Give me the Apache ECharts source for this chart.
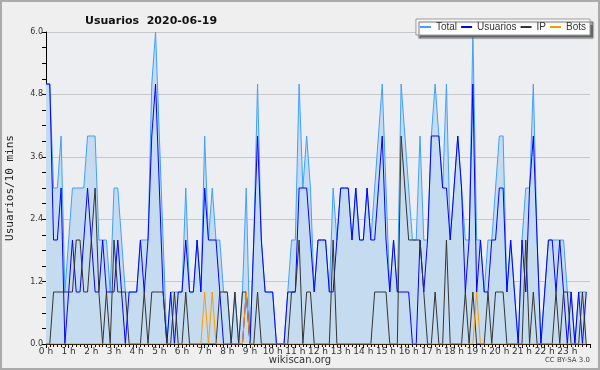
<!DOCTYPE html>
<html><head><meta charset="utf-8">
<script src="https://cdn.jsdelivr.net/npm/echarts@6/dist/echarts.min.js"></script>
<style>html,body{margin:0;padding:0;background:#efefef}#c{width:600px;height:370px}</style>
</head><body><div id="c"></div>
<script>
// 144 ten-minute slots (index 0 = 00:00 ... 143 = 23:50)
const usuarios = [
5,5,2,2,3,0,1,2,1,1, 2,3,2,1,1,2,1,1,1,2, 1,0,1,1,1,2,1,2,4,5,
3,1,0,1,0,1,1,2,1,1, 2,1,3,2,2,2,1,0,0,0, 0,0,0,1,0,2,4,2,1,1,
1,0,0,0,1,1,1,3,3,3, 2,1,2,2,2,1,1,2,3,3, 3,2,3,2,2,3,2,2,3,4,
2,1,2,1,1,1,1,0,0,2, 1,2,4,4,4,3,3,2,3,4, 3,1,2,5,1,2,1,1,2,2,
3,3,1,2,1,0,2,1,3,4, 2,0,1,2,2,1,2,1,0,1, 0,1,0,1];
const ip = [
0,0,1,1,1,1,1,1,2,2, 1,1,2,3,1,0,1,0,2,1, 1,1,0,0,0,0,1,0,1,1,
1,1,0,0,1,0,0,1,0,0, 0,0,0,0,0,0,1,1,1,0, 1,0,1,1,0,0,1,0,0,0,
0,0,0,0,0,1,1,2,0,1, 1,0,0,0,0,0,2,0,0,0, 0,0,0,0,0,0,0,1,1,1,
1,0,0,0,4,3,2,2,2,2, 1,0,0,1,0,0,2,0,0,0, 0,1,0,1,0,0,0,1,0,1,
1,1,0,0,0,0,0,2,0,1, 0,0,0,0,0,1,0,1,1,0, 0,0,1,0];
const bots = [
0,0,0,0,0,0,0,0,0,0, 0,0,0,0,0,0,0,0,0,0, 0,0,0,0,0,0,0,0,0,0,
0,0,0,0,0,0,0,0,0,0, 0,0,1,0,1,0,0,0,0,0, 0,0,0,1,0,0,0,0,0,0,
0,0,0,0,0,0,0,0,0,0, 0,0,0,0,0,0,0,0,0,0, 0,0,0,0,0,0,0,0,0,0,
0,0,0,0,0,0,0,0,0,0, 0,0,0,0,0,0,0,0,0,0, 0,0,0,0,1,0,0,0,0,0,
0,0,0,0,0,0,0,0,0,0, 0,0,0,0,0,0,0,0,0,0, 0,0,0,0];
const total = [
5,5,3,3,4,1,2,3,3,3, 3,4,4,4,2,2,2,1,3,3, 2,1,1,1,1,2,2,2,5,6,
4,2,0,1,1,1,1,3,1,1, 2,1,4,2,3,2,2,1,1,0, 1,0,1,3,0,2,5,2,1,1,
1,0,0,0,1,2,2,5,3,4, 3,1,2,2,2,1,3,2,3,3, 3,2,3,2,2,3,2,3,4,5,
3,1,2,1,5,4,3,2,2,4, 2,2,4,5,4,3,5,2,3,4, 3,2,2,6,2,2,1,2,2,3,
4,4,1,2,1,0,2,3,3,5, 2,0,1,2,2,2,2,2,1,1, 0,1,1,1];
const hourLabels = ["0 h","1 h","2 h","3 h","4 h","5 h","6 h","7 h","8 h","9 h","10 h","11 h",
  "12 h","13 h","14 h","15 h","16 h","17 h","18 h","19 h","20 h","21 h","22 h","23 h"];
const yTickLabels = ["0.0","1.2","2.4","3.6","4.8","6.0"];
const seriesNames = ["Total","Usuarios","IP","Bots"];
const seriesColors = ["#3fa0ff","#0000ff","#333333","#ff9900"];

const sans = "'DejaVu Sans',sans-serif";
const lib = "'Liberation Sans',Arial,sans-serif";
const chart = echarts.init(document.getElementById('c'), null, {renderer:'canvas'});
const pts = arr => arr.map((v,i)=>[i,v]);
const mk = (idx, data, extra) => Object.assign({
  name:seriesNames[idx], type:'line', data:pts(data), symbol:'none', showSymbol:false, animation:false,
  lineStyle:{color:seriesColors[idx], width:1}, itemStyle:{color:seriesColors[idx]}, emphasis:{disabled:true}
}, extra||{});

chart.setOption({
  animation:false,
  backgroundColor:'#efefef',
  title:{text:'Usuarios  2020-06-19', left:80, top:11,
    textStyle:{fontFamily:sans, fontSize:11, fontWeight:'bold', color:'#111'}},
  legend:{right:10, top:19, orient:'horizontal',
    data:seriesNames.map((n,i)=>({name:n, icon:'rect', itemStyle:{color:seriesColors[i], borderWidth:0}})),
    backgroundColor:'#ffffff', borderColor:'#999', borderWidth:1,
    shadowColor:'#666', shadowOffsetX:3, shadowOffsetY:3, shadowBlur:1,
    padding:[3,4,3,4], itemGap:4, itemWidth:11, itemHeight:2,
    textStyle:{fontFamily:lib, fontSize:10, color:'#333'}},
  grid:{left:46, right:10, top:32, bottom:26, show:true, backgroundColor:'#eceef1', borderWidth:0,
    outerBoundsMode:'none', containLabel:false},
  xAxis:{type:'value', min:0, max:144, interval:6,
    axisLine:{lineStyle:{color:'#000', width:1}},
    axisTick:{show:true, length:4, lineStyle:{color:'#000'}},
    minorTick:{show:true, splitNumber:6, length:3, lineStyle:{color:'#000'}},
    splitLine:{show:false},
    axisLabel:{fontFamily:sans, fontSize:9, color:'#333', margin:3,
      formatter:v=>hourLabels[Math.round(v/6)]||''}},
  yAxis:{type:'value', min:0, max:6, interval:1.2,
    name:'Usuarios/10 mins', nameLocation:'middle', nameGap:30,
    nameTextStyle:{fontFamily:"'DejaVu Sans Mono',monospace", fontSize:11, color:'#222'},
    axisLine:{show:true, lineStyle:{color:'#000', width:1}},
    axisTick:{show:true, length:4, lineStyle:{color:'#000'}},
    minorTick:{show:true, splitNumber:4, length:4, lineStyle:{color:'#000'}},
    splitLine:{show:true, lineStyle:{color:'#c8c8c8', width:1}},
    axisLabel:{fontFamily:sans, fontSize:8, color:'#333', margin:3,
      formatter:v=>yTickLabels[Math.round(v/1.2)]||''}},
  series:[
    mk(0, total, {areaStyle:{color:'#c5dcf0', opacity:1}, z:1}),
    mk(1, usuarios, {z:2}),
    mk(2, ip, {z:3}),
    mk(3, bots, {z:4})
  ],
  graphic:[
    {type:'rect', shape:{x:1,y:1,width:598,height:368}, style:{fill:'none', stroke:'#aaaaaa', lineWidth:2}, silent:true},
    {type:'text', left:'center', top:355, style:{text:'wikiscan.org', font:"10px "+sans, fill:'#333'}},
    {type:'text', right:10, top:357, style:{text:'CC BY-SA 3.0', font:"7px "+sans, fill:'#444'}}
  ]
});
</script></body></html>
